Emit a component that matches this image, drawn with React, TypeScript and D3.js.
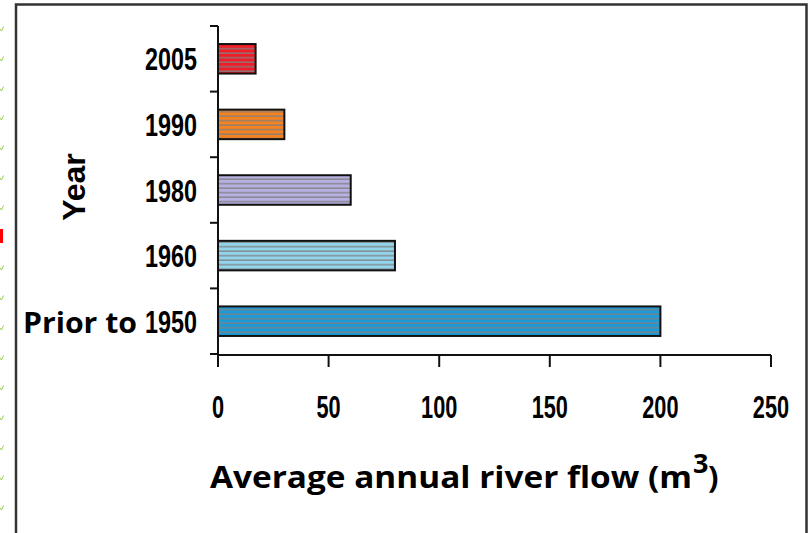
import React from "react";
import * as d3 from "d3";

const categories = ["2005", "1990", "1980", "1960", "Prior to 1950"];
const flows = [17, 30, 60, 80, 200];
const barColors = ["#ee1d27", "#f5821f", "#b7b0e2", "#92d4ec", "#1c9ad8"];
const xTicks = [0, 50, 100, 150, 200, 250];
const xTitle = "Average annual river flow (m";
const yTitle = "Year";

const W = 809;
const H = 533;

export default function App() {
  const x = d3.scaleLinear().domain([0, 250]).range([218, 771]);
  const y = d3
    .scaleBand<string>()
    .domain(categories)
    .range([26, 354])
    .paddingInner(0.55)
    .paddingOuter(0.275);
  const step = y.step();
  const boundaries = d3.range(categories.length + 1).map((i) => 26 + i * step);
  const arial = "'Liberation Sans', Arial, sans-serif";
  const humanist = "'Open Sans', Lato, sans-serif";
  const checks = [29, 59, 89, 118, 148, 178, 208, 268, 298, 328, 358, 388, 418, 448, 478, 508];

  return (
    <svg
      width={W}
      height={H}
      style={{ position: "absolute", left: 0, top: 0, background: "#fff" }}
    >
      <defs>
        {barColors.map((c, i) => (
          <pattern
            key={i}
            id={`stripe${i}`}
            patternUnits="userSpaceOnUse"
            width={10}
            height={4.5}
          >
            <rect width={10} height={4.5} fill={c} />
            <rect y={3} width={10} height={1.4} fill="#808080" opacity={0.9} />
          </pattern>
        ))}
      </defs>

      {/* page decorations */}
      {checks.map((cy, i) => (
        <path
          key={i}
          d={`M0,${cy} L1.5,${cy + 2} L3.5,${cy - 2.5}`}
          fill="none"
          stroke="#8cc63f"
          strokeWidth={0.9}
        />
      ))}
      <rect x={0} y={229} width={3} height={14} fill="#ff0000" />

      {/* frame */}
      <rect x={16} y={4.5} width={790.5} height={600} fill="none" stroke="#333" strokeWidth={2.5} />

      {/* bars */}
      {categories.map((c, i) => (
        <rect
          key={c}
          x={x(0)}
          y={y(c)!}
          width={x(flows[i]) - x(0)}
          height={y.bandwidth()}
          fill={`url(#stripe${i})`}
          stroke="#111"
          strokeWidth={2}
        />
      ))}

      {/* y axis */}
      <line x1={218} x2={218} y1={26} y2={355} stroke="#111" strokeWidth={2} />
      {boundaries.map((b, i) => (
        <line key={i} x1={210} x2={218} y1={b} y2={b} stroke="#111" strokeWidth={2} />
      ))}

      {/* x axis */}
      <line x1={217} x2={x(250)} y1={355} y2={355} stroke="#111" strokeWidth={2} />
      {xTicks.map((t) => (
        <line key={t} x1={x(t)} x2={x(t)} y1={355} y2={367} stroke="#111" strokeWidth={2} />
      ))}
      {xTicks.map((t) => (
        <text
          key={t}
          transform={`translate(${x(t)},418) scale(0.68,1)`}
          textAnchor="middle"
          fontFamily={arial}
          fontWeight="bold"
          fontSize={32}
          fill="#000"
        >
          {t}
        </text>
      ))}

      {/* category labels */}
      {categories.map((c) => {
        const cy = y(c)! + y.bandwidth() / 2 + 11.5;
        const isPrior = c.startsWith("Prior");
        const num = isPrior ? c.replace("Prior to ", "") : c;
        return (
          <g key={c}>
            <text
              transform={`translate(197,${cy}) scale(0.73,1)`}
              textAnchor="end"
              fontFamily={arial}
              fontWeight="bold"
              fontSize={32}
              fill="#000"
            >
              {num}
            </text>
            {isPrior && (
              <text
                x={23}
                y={cy}
                fontFamily={humanist}
                fontWeight="bold"
                fontSize={29}
                textLength={114}
                lengthAdjust="spacingAndGlyphs"
                fill="#000"
              >
                Prior to
              </text>
            )}
          </g>
        );
      })}

      {/* y title */}
      <text
        transform="translate(85,187) rotate(-90)"
        textAnchor="middle"
        fontFamily={arial}
        fontWeight="bold"
        fontSize={32}
        fill="#000"
      >
        {yTitle}
      </text>

      {/* x title */}
      <text
        x={210}
        y={488}
        fontFamily={humanist}
        fontWeight="bold"
        fontSize={31}
        textLength={482}
        lengthAdjust="spacingAndGlyphs"
        fill="#000"
      >
        {xTitle}
      </text>
      <text x={693} y={473} fontFamily={humanist} fontWeight="bold" fontSize={27} fill="#000">
        3
      </text>
      <text x={708} y={488} fontFamily={humanist} fontWeight="bold" fontSize={31} fill="#000">
        )
      </text>
    </svg>
  );
}
